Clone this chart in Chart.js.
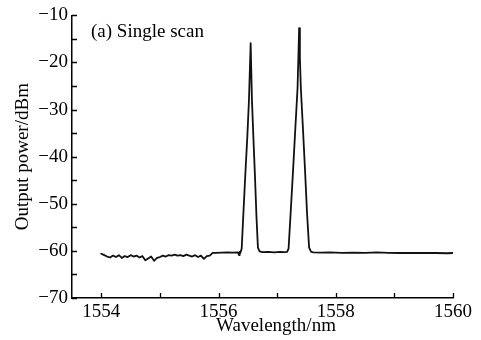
<!DOCTYPE html>
<html>
<head>
<meta charset="utf-8">
<script src="https://cdn.jsdelivr.net/npm/chart.js@4/dist/chart.umd.min.js"></script>
<style>
html,body{margin:0;padding:0;background:#fff;}
#wrap{width:481px;height:340px;}
</style>
</head>
<body>
<div id="wrap"><canvas id="c" width="481" height="340"></canvas></div>
<script>
// Wavelength (nm)
const wavelength = [
  1554.00,1554.05,1554.10,1554.15,1554.20,1554.25,1554.30,1554.35,1554.40,1554.45,
  1554.50,1554.55,1554.60,1554.65,1554.70,1554.75,1554.80,1554.85,1554.90,1554.95,
  1555.00,1555.05,1555.10,1555.15,1555.20,1555.25,1555.30,1555.35,1555.40,1555.45,
  1555.50,1555.55,1555.60,1555.65,1555.70,1555.75,1555.80,1555.85,1555.90,1555.95,
  1556.05,1556.15,1556.25,1556.33,1556.35,1556.36,1556.37,
  1556.395,1556.42,1556.456,1556.49,1556.519,1556.548,1556.570,1556.595,1556.621,1556.648,1556.672,1556.70,1556.75,
  1556.85,1556.95,1557.05,1557.12,1557.17,
  1557.195,1557.23,1557.271,1557.31,1557.348,1557.362,1557.375,1557.388,1557.404,1557.44,1557.476,1557.51,1557.545,1557.58,1557.62,
  1557.75,1557.90,1558.10,1558.30,1558.50,1558.70,1558.90,1559.10,1559.30,1559.50,1559.70,1559.90,1560.00
];
// Output power (dBm)
const power = [
  -60.6,-60.9,-61.2,-61.4,-61.0,-61.3,-60.9,-61.5,-61.1,-61.3,
  -60.9,-61.2,-61.0,-61.4,-61.1,-62.0,-61.6,-61.2,-62.1,-61.5,
  -61.3,-61.0,-61.2,-60.9,-61.0,-60.8,-61.0,-60.9,-61.1,-60.8,
  -61.0,-61.2,-60.9,-61.3,-61.0,-61.7,-61.1,-61.0,-60.4,-60.4,
  -60.35,-60.3,-60.35,-60.3,-60.9,-60.2,-60.5,
  -59.5,-53.0,-44.0,-36.0,-28.0,-15.9,-28.0,-36.0,-44.0,-53.0,-59.3,-60.1,-60.25,
  -60.2,-60.3,-60.2,-60.25,-60.2,
  -59.5,-52.0,-43.0,-34.0,-25.4,-19.0,-12.7,-19.0,-25.4,-34.0,-43.0,-52.0,-59.3,-60.2,-60.3,
  -60.35,-60.3,-60.4,-60.35,-60.4,-60.3,-60.4,-60.45,-60.4,-60.45,-60.45,-60.5,-60.45
];
const xTicks = [1554,1555,1556,1557,1558,1559,1560];
const yTicks = [-70,-65,-60,-55,-50,-45,-40,-35,-30,-25,-20,-15,-10];
const xLabelEvery = 2;
const yLabelEvery = 10;
const panelLabel = '(a) Single scan';
const xTitle = 'Wavelength/nm';
const yTitle = 'Output power/dBm';

const FONT = '"Liberation Serif","Times New Roman",serif';

const points = wavelength.map((w,i)=>({x:w,y:power[i]}));

const innerTicks = {
  id:'innerTicks',
  afterDraw(chart){
    const ctx = chart.ctx, a = chart.chartArea;
    const xs = chart.scales.x, ys = chart.scales.y;
    ctx.save();
    ctx.strokeStyle = '#000';
    ctx.lineWidth = 1.3;
    ctx.beginPath();
    xTicks.forEach(v=>{
      const px = Math.round(xs.getPixelForValue(v))+0.5;
      ctx.moveTo(px,a.bottom); ctx.lineTo(px,a.bottom-5);
    });
    yTicks.forEach(v=>{
      const py = Math.round(ys.getPixelForValue(v))+0.5;
      ctx.moveTo(a.left,py); ctx.lineTo(a.left+5,py);
    });
    ctx.stroke();
    ctx.fillStyle = '#000';
    ctx.font = '19px ' + FONT;
    ctx.textBaseline = 'middle';
    ctx.textAlign = 'left';
    ctx.fillText(panelLabel, a.left+19, 32);
    ctx.textAlign = 'center';
    ctx.textBaseline = 'alphabetic';
    ctx.fillText(xTitle, 276, 331);
    ctx.restore();
  }
};

new Chart(document.getElementById('c'), {
  type:'line',
  data:{datasets:[{data:points,borderColor:'#111',borderWidth:1.8,borderJoinStyle:'round',borderCapStyle:'round',pointRadius:0,tension:0,fill:false}]},
  options:{
    responsive:false,
    animation:false,
    events:[],
    layout:{padding:{top:14,right:28,left:0,bottom:0}},
    plugins:{legend:{display:false},tooltip:{enabled:false}},
    scales:{
      x:{
        type:'linear', min:1553.5, max:1560,
        afterBuildTicks(s){ s.ticks = xTicks.map(v=>({value:v})); },
        afterFit(s){ s.height = 42; },
        grid:{display:true,drawOnChartArea:false,drawTicks:false},
        border:{display:true,color:'#000',width:1.5},
        ticks:{color:'#000',padding:3,maxRotation:0,autoSkip:false,
          font:{family:FONT,size:19},
          callback:(v)=> (v % xLabelEvery === 0 ? String(v) : '')}
      },
      y:{
        type:'linear', min:-70, max:-10,
        afterBuildTicks(s){ s.ticks = yTicks.map(v=>({value:v})); },
        afterFit(s){ s.width = 72; },
        grid:{display:true,drawOnChartArea:false,drawTicks:false},
        border:{display:true,color:'#000',width:1.5},
        title:{display:true,text:yTitle,color:'#000',font:{family:FONT,size:19},padding:{top:12,bottom:0}},
        ticks:{color:'#000',padding:4,autoSkip:false,
          font:{family:FONT,size:19},
          callback:(v)=> (v % yLabelEvery === 0 ? String(v).replace('-','\u2212') : '')}
      }
    }
  },
  plugins:[innerTicks]
});
</script>
</body>
</html>
